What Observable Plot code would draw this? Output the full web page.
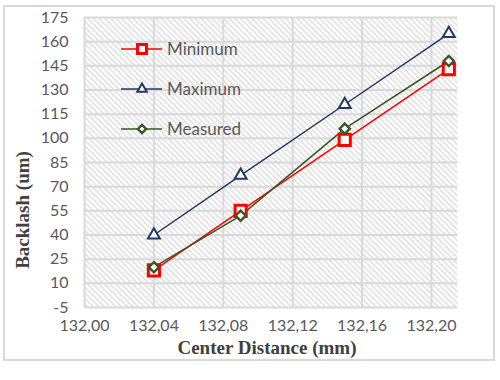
<!DOCTYPE html>
<html>
<head>
<meta charset="utf-8">
<script src="https://cdn.jsdelivr.net/npm/d3@7"></script>
<script src="https://cdn.jsdelivr.net/npm/@observablehq/plot@0.6"></script>
<style>
  html, body { margin: 0; padding: 0; background: #fff; }
  #wrap { position: relative; width: 500px; height: 380px; }
  #border { position: absolute; left: 3px; top: 5px; width: 492px; height: 356px; box-sizing: border-box; border: 2px solid #d9d9d9; pointer-events: none; }
  #chart { position: absolute; left: 0; top: 0; }
</style>
</head>
<body>
<div id="wrap"><div id="chart"></div><div id="border"></div></div>
<script>
// Data
const distance = [132.04, 132.09, 132.15, 132.21];
const minimum  = [18, 55, 99, 143];
const maximum  = [40, 77, 121, 165];
const measured = [20, 52, 106, 148];

const seriesNames = ["Minimum", "Maximum", "Measured"];
const seriesColors = ["#ff0000", "#1f3864", "#375623"];
const seriesSymbols = ["square", "triangle", "diamond2"];

const xTicks = [132.00, 132.04, 132.08, 132.12, 132.16, 132.20];
const yTicks = [-5, 10, 25, 40, 55, 70, 85, 100, 115, 130, 145, 160, 175];

const xTitle = "Center Distance (mm)";
const yTitle = "Backlash (um)";

// table
const valuesBySeries = [minimum, maximum, measured];
const rows = [];
seriesNames.forEach((s, i) => {
  distance.forEach((d, j) => rows.push({series: s, x: d, y: valuesBySeries[i][j]}));
});

const fmt = d => d3.format(".2f")(d).replace(".", ",");
const markerStyle = {
  Minimum: {r: 6.3, sw: 3},
  Maximum: {r: 4.4, sw: 2},
  Measured: {r: 4.6, sw: 2.4}
};

const marks = [
  Plot.frame({fill: "url(#hatch)", stroke: null}),
  Plot.gridX(xTicks, {stroke: "#d9d9d9", strokeOpacity: 1, strokeWidth: 2}),
  Plot.gridY(yTicks, {stroke: "#d9d9d9", strokeOpacity: 1, strokeWidth: 2}),
  Plot.axisX(xTicks, {tickSize: 0, tickPadding: 12, tickFormat: fmt, label: null, fontSize: 16, fill: "#595959"}),
  Plot.axisY(yTicks, {tickSize: 0, tickPadding: 16, tickFormat: d => String(d), label: null, fontSize: 16, fill: "#595959"})
];
seriesNames.forEach((s, i) => {
  const data = rows.filter(r => r.series === s);
  marks.push(Plot.line(data, {x: "x", y: "y", stroke: seriesColors[i], strokeWidth: 1.5}));
});
["Maximum", "Minimum", "Measured"].forEach(s => {
  const i = seriesNames.indexOf(s);
  const data = rows.filter(r => r.series === s);
  marks.push(Plot.dot(data, {x: "x", y: "y", symbol: () => seriesSymbols[i], r: markerStyle[s].r,
    stroke: seriesColors[i], strokeWidth: markerStyle[s].sw, fill: "white"}));
});

const chart = Plot.plot({
  width: 500, height: 380,
  marginLeft: 84, marginRight: 43, marginTop: 17, marginBottom: 73,
  x: {domain: [132.00, 132.215]},
  y: {domain: [-5, 175]},
  symbol: {type: "identity"},
  style: {fontFamily: "Lato, 'Open Sans', sans-serif", fontSize: "16px", color: "#595959", background: "transparent"},
  marks
});
document.getElementById("chart").appendChild(chart);

// hatch pattern
const svg = d3.select(chart);
const defs = svg.insert("defs", ":first-child");
const pat = defs.append("pattern").attr("id", "hatch").attr("patternUnits", "userSpaceOnUse")
  .attr("width", 4).attr("height", 4).attr("patternTransform", "rotate(-45)");
pat.append("rect").attr("width", 4).attr("height", 4).attr("fill", "#ffffff");
pat.append("line").attr("x1", 1).attr("y1", 0).attr("x2", 1).attr("y2", 4).attr("stroke", "#d0d0d0").attr("stroke-width", 1.1);

// axis titles
svg.append("text").attr("x", 267).attr("y", 354).attr("text-anchor", "middle")
  .attr("font-family", "'Liberation Serif', 'Times New Roman', serif").attr("font-weight", "bold")
  .attr("font-size", 19).attr("fill", "#404040").text(xTitle);
svg.append("text").attr("transform", "translate(29,210) rotate(-90)").attr("text-anchor", "middle")
  .attr("font-family", "'Liberation Serif', 'Times New Roman', serif").attr("font-weight", "bold")
  .attr("font-size", 19).attr("fill", "#404040").text(yTitle);

// legend
const lg = svg.append("g").attr("text-anchor", "start");
seriesNames.forEach((s, i) => {
  const cy = 49 + i * 40;
  const g = lg.append("g").attr("transform", `translate(0,${cy})`);
  g.append("line").attr("x1", 121).attr("x2", 162).attr("y1", 0).attr("y2", 0)
    .attr("stroke", seriesColors[i]).attr("stroke-width", 1.5);
  const type = {square: d3.symbolSquare, triangle: d3.symbolTriangle, diamond2: d3.symbolDiamond2}[seriesSymbols[i]];
  const r = markerStyle[s].r * 0.8;
  g.append("path").attr("transform", "translate(142,0)")
    .attr("d", d3.symbol(type, Math.PI * r * r)())
    .attr("fill", "white").attr("stroke", seriesColors[i]).attr("stroke-width", markerStyle[s].sw);
  g.append("text").attr("x", 167).attr("y", 0).attr("dy", "0.35em").attr("text-anchor", "start")
    .attr("font-family", "Lato, 'Open Sans', sans-serif").attr("font-size", 17)
    .attr("fill", "#595959").text(s);
});
</script>
</body>
</html>
